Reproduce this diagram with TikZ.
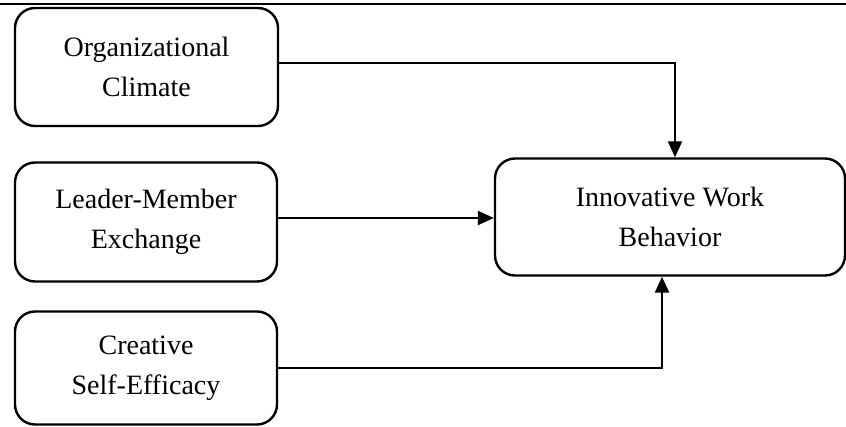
\documentclass[tikz,border=0pt]{standalone}
\usepackage{fontspec}
\setmainfont{Liberation Serif}
\usetikzlibrary{arrows.meta}
\begin{document}
\begin{tikzpicture}[x=0.5pt,y=-0.5pt,
  var/.style={draw,line width=1.2pt,rounded corners=10pt,align=center,
    inner sep=0pt,font=\fontsize{14}{20}\selectfont},
  link/.style={-{Triangle[length=8pt,width=7pt]},line width=1.1pt}]
  \useasboundingbox (0,0) rectangle (846,427);
  \draw [line width=1.3pt] (0,4) -- (846,4);
  \node (OC) at (146.5,67) [var,minimum width=131.5pt,minimum height=59pt] {Organizational\\Climate};
  \node (LME) at (146,222) [var,minimum width=131pt,minimum height=59.5pt] {Leader-Member\\Exchange};
  \node (CSE) at (146,368) [var,minimum width=131pt,minimum height=56.5pt] {Creative\\Self-Efficacy};
  \node (IWB) at (670,217) [var,minimum width=175pt,minimum height=58.5pt] {Innovative Work\\Behavior};
  \draw [link] ([yshift=2pt]OC.east) -| ([xshift=2.5pt]IWB.north);
  \draw [link] ([yshift=2pt]LME.east) -- ([yshift=2pt]LME.east -| IWB.west);
  \draw [link] (CSE.east) -| ([xshift=-4pt]IWB.south);
\end{tikzpicture}
\end{document}
